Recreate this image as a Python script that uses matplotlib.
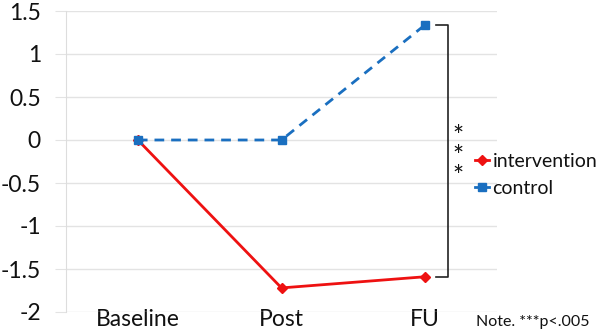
import matplotlib
matplotlib.use("Agg")
import matplotlib.pyplot as plt

categories = ["Baseline", "Post", "FU"]
intervention = [0.0, -1.72, -1.59]
control = [0.0, 0.0, 1.34]
yticks = [1.5, 1, 0.5, 0, -0.5, -1, -1.5, -2]
ytick_labels = ["1.5", "1", "0.5", "0", "-0.5", "-1", "-1.5", "-2"]

plt.rcParams['font.family'] = ['Lato', 'DejaVu Sans']

W, H = 598, 334
fig = plt.figure(figsize=(W/100, H/100), dpi=100)
ax = fig.add_axes([66/W, 1-312/H, (497-66)/W, (312-11)/H])

x = list(range(len(categories)))
ax.plot(x, intervention, color="#ee1111", lw=2, marker="D", ms=5, label="intervention", zorder=3)
ax.plot(x, control, color="#1a6fc0", lw=2, ls=(0, (3.5, 2.5)), marker="s", ms=6, label="control", zorder=3)

ax.set_xlim(-0.5, 2.5)
ax.set_ylim(-2, 1.5)
ax.set_yticks(yticks)
ax.set_yticklabels(ytick_labels)
ax.set_xticks(x)
ax.set_xticklabels(categories)
ax.yaxis.grid(True, color="#e3e3e3", lw=1)
ax.set_axisbelow(True)
for s in ["top", "right", "bottom"]:
    ax.spines[s].set_visible(False)
ax.spines["left"].set_color("#dddddd")
ax.tick_params(axis="y", length=8, color="#e3e3e3", labelsize=16.5, pad=10)
ax.tick_params(axis="x", length=0, labelsize=16.5, pad=-2)
for lab in ax.get_xticklabels() + ax.get_yticklabels():
    lab.set_color("#111111")

# significance bracket
bx0, bx1 = 2.075, 2.158
ax.plot([bx0, bx1, bx1, bx0], [control[2], control[2], intervention[2], intervention[2]],
        color="#222222", lw=1.2, clip_on=False)
ax.text(2.23, -0.2, "*\n*\n*", fontsize=19, ha="center", va="center", clip_on=False,
        color="#111111", linespacing=0.75)

leg = ax.legend(loc="upper left", bbox_to_anchor=(0.949, 0.528),
                frameon=False, fontsize=14, handlelength=0.7, handletextpad=0.2,
                labelspacing=0.5, borderaxespad=0, borderpad=0)
for h in leg.legend_handles:
    h.set_linestyle("-")
for t in leg.get_texts():
    t.set_color("#111111")

fig.text(476/W, 1-322/H, "Note. ***p<.005", fontsize=11.5, va="center", ha="left", color="#111111")

fig.savefig("out.png", dpi=100)
